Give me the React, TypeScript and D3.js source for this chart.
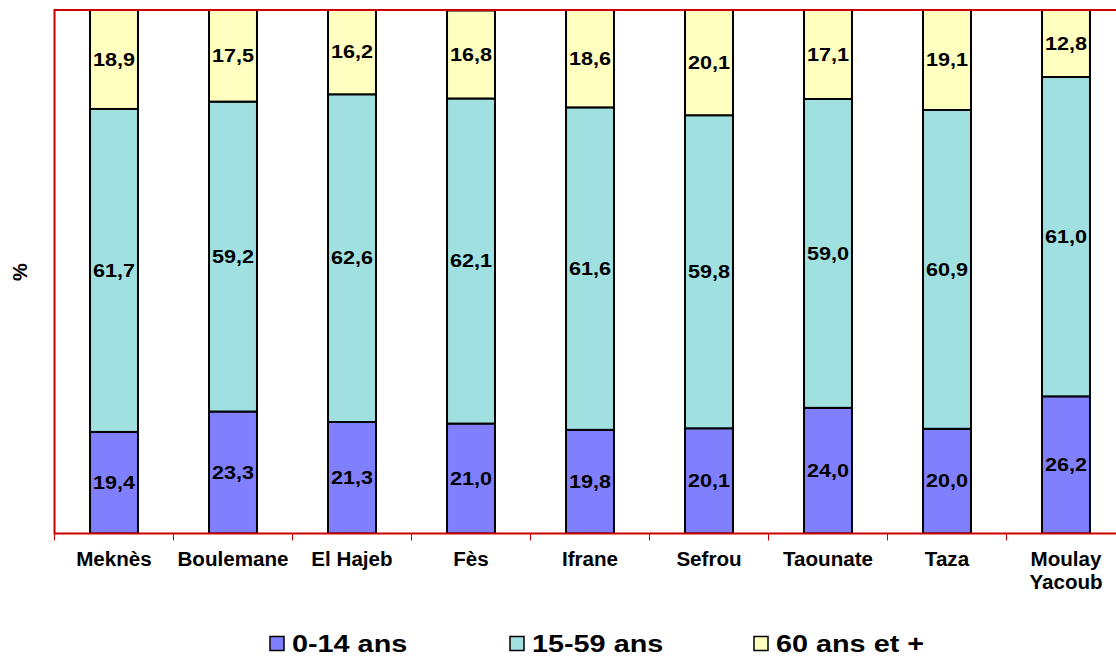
import React from "react";
import * as d3 from "d3";

const categories = ["Meknès", "Boulemane", "El Hajeb", "Fès", "Ifrane", "Sefrou", "Taounate", "Taza", "Moulay Yacoub"];
const young = [19.4, 23.3, 21.3, 21.0, 19.8, 20.1, 24.0, 20.0, 26.2];
const adult = [61.7, 59.2, 62.6, 62.1, 61.6, 59.8, 59.0, 60.9, 61.0];
const senior = [18.9, 17.5, 16.2, 16.8, 18.6, 20.1, 17.1, 19.1, 12.8];
const seriesNames = ["0-14 ans", "15-59 ans", "60 ans et +"];
const colors = ["#8080FF", "#A0E0E0", "#FFFFC0"];

const W = 1116, H = 656;
const left = 54.5, top = 10, bottom = 533.5, step = 119;
const font = "'Liberation Sans', Arial, sans-serif";

export default function App() {
  const x = d3.scaleBand<string>().domain(categories).range([left, left + step * categories.length]).paddingInner(0.597).paddingOuter(0.2985);
  const y = d3.scaleLinear().domain([0, 100]).range([bottom, top]);
  const rows = categories.map((c, i) => ({ cat: c, s0: young[i], s1: adult[i], s2: senior[i] }));
  const stack = d3.stack<any>().keys(["s0", "s1", "s2"]);
  const layers = stack(rows);
  const fmt = (v: number) => v.toFixed(1).replace(".", ",");
  const legendX = [270, 510, 754];
  const right = left + step * categories.length;
  return (
    <svg width={W} height={H} style={{ position: "absolute", left: 0, top: 0, background: "#fff" }} fontFamily={font}>
      <defs>
        <clipPath id="plot"><rect x={left} y={top} width={right - left} height={bottom - top} /></clipPath>
      </defs>
      <g clipPath="url(#plot)">
        {layers.map((layer, li) =>
          layer.map((d, i) => (
            <rect key={li + "-" + i} x={x(categories[i])} y={y(Math.min(d[1], 100))} width={x.bandwidth()}
              height={y(d[0]) - y(Math.min(d[1], 100))} fill={colors[li]} stroke="#000" strokeWidth={2} />
          ))
        )}
      </g>
      <rect x={left} y={top} width={right - left} height={bottom - top} fill="none" stroke="#CC0000" strokeWidth={2} />
      {categories.map((c, i) => (
        <line key={"t" + i} x1={left + step * i} x2={left + step * i} y1={bottom} y2={bottom + 7} stroke="#CC0000" strokeWidth={1} />
      ))}
      {layers.map((layer, li) =>
        layer.map((d, i) => {
          const cx = x(categories[i])! + x.bandwidth() / 2;
          const cy = (y(d[0]) + y(Math.min(d[1], 100))) / 2;
          return (
            <text key={"l" + li + "-" + i} transform={`translate(${cx},${cy}) scale(1.2,1)`}
              textAnchor="middle" dominantBaseline="central" fontWeight="bold" fontSize={18}>{fmt(d[1] - d[0])}</text>
          );
        })
      )}
      {categories.map((c, i) => {
        const parts = c === "Moulay Yacoub" ? ["Moulay", "Yacoub"] : [c];
        return parts.map((p, pi) => (
          <text key={"c" + i + pi} transform={`translate(${x(c)! + x.bandwidth() / 2},${566 + pi * 23}) scale(1.03,1)`}
            textAnchor="middle" fontWeight="bold" fontSize={20}>{p}</text>
        ));
      })}
      <text transform="translate(27,272) rotate(-90)" textAnchor="middle" fontWeight="bold" fontSize={20}>%</text>
      {seriesNames.map((s, i) => (
        <g key={"lg" + i}>
          <rect x={legendX[i]} y={636.5} width={14} height={14} fill={colors[i]} stroke="#000" strokeWidth={1.5} />
          <text transform={`translate(${legendX[i] + 22},651.5) scale(1.2,1)`} fontWeight="bold" fontSize={24}>{s}</text>
        </g>
      ))}
    </svg>
  );
}
